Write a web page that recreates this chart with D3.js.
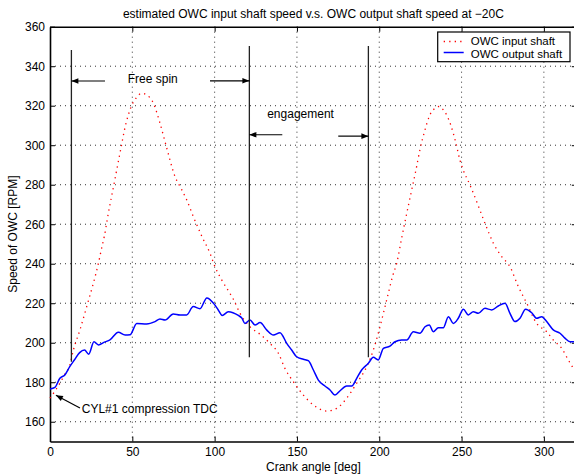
<!DOCTYPE html>
<html>
<head>
<meta charset="utf-8">
<script src="https://cdn.jsdelivr.net/npm/d3@7"></script>
<style>
  body { margin: 0; background: #fff; }
  text { font-family: "Liberation Sans", Arial, sans-serif; fill: #000; }
</style>
</head>
<body>
<div id="chart"></div>
<script>
// crank angle [deg] / speed [RPM]
var inputAngle = [0, 3, 6, 9, 12, 14.2, 18.2, 22.3, 26.3, 29.4, 31.4, 33, 35.4, 38.9, 42.5, 46.2, 49, 52.7, 55.7, 58.7,
    62.8, 66.8, 70.9, 75.9, 80, 83, 87, 92.5, 97.2, 100.2, 104.3, 109.3, 111.4, 115.4, 121.5, 127.6, 133.6, 138.7,
    142.7, 147.8, 153.9, 160, 168.1, 174.2, 180.2, 186.3, 192.4, 196.4, 199.4, 202.5, 205.5, 208.2, 210.6, 213.6,
    216.7, 219.7, 222.3, 224.7, 227.8, 230.8, 233.9, 236.5, 238.9, 240.9, 243.4, 246.6, 249, 251, 255.1, 259.2,
    264.2, 269.3, 274.4, 279.4, 284.5, 289.6, 295.6, 301.7, 305.7, 310.8, 314.8, 317.9, 320];
var inputSpeed = [171.9, 175.5, 179.5, 184, 188.5, 196.3, 206.5, 218.3, 230, 240.2, 248, 253.9, 265.4, 280.4, 296, 311.2, 318.8, 324.3, 326.3, 325.5,
    321.3, 311.2, 298.6, 284.2, 277.5, 272.4, 264, 253.4, 245.3, 238.5, 231.8, 225, 222, 214.9, 208.1, 204.3, 199.7, 194.7,
    187, 180.3, 173.5, 168.5, 165.4, 166.8, 171.9, 179.5, 187.9, 196.3, 204.8, 214.9, 225, 234, 240.2, 252.9,
    265.5, 277.3, 287.5, 297.6, 307.8, 315.4, 318.7, 319.6, 317.9, 315.4, 310.3, 301, 292.5, 287.5, 279.9, 271.4,
    260.5, 250.4, 243.6, 238.5, 228.4, 220, 209.8, 205.6, 201.4, 197.2, 191.3, 187, 184];

var outputAngle = [0, 3, 6, 9, 12, 15, 18, 21, 23.5, 26.7, 29.4, 33, 36.4, 41.5, 45.6, 48.6, 52.7, 58.7, 63.8, 66.8,
    69.9, 74.9, 79, 83, 87, 91.1, 95.3, 99.5, 102.2, 104.6, 108.3, 114.4, 116.5, 118.4, 121.5, 124.5, 127.6, 131.6,
    135.7, 139.7, 143.8, 146.8, 149.8, 153.9, 156.9, 160, 163, 167, 170.1, 173.1, 176.2, 180.2, 183.3, 186.3,
    189.3, 193.4, 196.4, 199.4, 202.5, 206.5, 209.6, 213.6, 216.7, 220.7, 224.7, 227.8, 230.4, 232.8, 235.9,
    238.9, 242, 245, 248, 251.1, 254.1, 257.1, 260.2, 264.2, 268.3, 272.3, 276.4, 279.4, 282.4, 285.5, 288.9,
    292.6, 295.6, 298.7, 301.7, 305.7, 309.8, 312.8, 315.9, 320];
var outputSpeed = [176.6, 177.4, 182, 183.7, 187.9, 191.5, 195, 196.3, 194.2, 200.5, 198.9, 200.3, 201.4, 205.3, 203.9, 204, 209.8, 209.5, 210.7, 212,
    211.5, 214.6, 214.1, 214.1, 218.3, 217.2, 222.7, 219.8, 216.6, 213.8, 215.7, 213.8, 212.5, 209.8, 211.5, 209, 210.2, 206.5,
    203.9, 205.1, 199.7, 196.3, 192.9, 191.6, 190.9, 186.2, 181.1, 178.1, 176.1, 173.5, 175.7, 178.1, 178.1, 182,
    186.2, 189.6, 192.6, 191.3, 197.2, 198.3, 200.5, 201.4, 201.4, 205.6, 204.8, 208.1, 209, 205.6, 207.6,
    207.6, 213.2, 209.8, 212.4, 217, 214.1, 215.7, 214.9, 217.4, 216.6, 218.6, 220, 214.9, 210.7, 212.4, 217,
    215.2, 212.4, 213.2, 210.7, 206.5, 204.8, 202.3, 200.5, 200.5];

var xTicks = [0, 50, 100, 150, 200, 250, 300];
var yTicks = [160, 180, 200, 220, 240, 260, 280, 300, 320, 340, 360];
var seriesNames = ["OWC input shaft", "OWC output shaft"];

function init() {
    var w = 574;
    var h = 476;
    var left = 50, right = 576.8, top = 26.7, bottom = 441.5;

    var svg = d3.select("#chart")
                .append("svg")
                .attr("width", w)
                .attr("height", h);

    var x = d3.scaleLinear().domain([0, 320]).range([left, right]);
    var y = d3.scaleLinear().domain([150, 360]).range([bottom, top]);

    svg.append("defs").append("marker")
        .attr("id", "head")
        .attr("viewBox", "0 0 10 10")
        .attr("refX", 10).attr("refY", 5)
        .attr("markerWidth", 9).attr("markerHeight", 7)
        .attr("markerUnits", "userSpaceOnUse")
        .attr("orient", "auto")
        .append("path")
        .attr("d", "M0,1 L10,5 L0,9 Z")
        .attr("fill", "#000");

    // grid
    var grid = svg.append("g").attr("stroke", "#333").attr("stroke-width", 1).attr("stroke-dasharray", "1,4");
    grid.selectAll("line.gx").data(xTicks.filter(function(d) { return d > 0; }))
        .enter().append("line")
        .attr("x1", function(d) { return x(d); }).attr("x2", function(d) { return x(d); })
        .attr("y1", top).attr("y2", bottom);
    grid.selectAll("line.gy").data(yTicks.filter(function(d) { return d < 360; }))
        .enter().append("line")
        .attr("y1", function(d) { return y(d); }).attr("y2", function(d) { return y(d); })
        .attr("x1", left).attr("x2", right);

    // axes, ticks pointing inward on all four sides
    var fmt = d3.format("d");
    svg.append("g").attr("transform", "translate(0," + bottom + ")")
        .call(d3.axisBottom(x).tickValues(xTicks).tickSizeInner(-5).tickSizeOuter(0).tickPadding(6).tickFormat(fmt));
    svg.append("g").attr("transform", "translate(0," + top + ")")
        .call(d3.axisTop(x).tickValues(xTicks).tickSizeInner(-5).tickSizeOuter(0).tickFormat(""));
    svg.append("g").attr("transform", "translate(" + left + ",0)")
        .call(d3.axisLeft(y).tickValues(yTicks).tickSizeInner(-5).tickSizeOuter(0).tickPadding(5).tickFormat(fmt));
    svg.append("g").attr("transform", "translate(" + right + ",0)")
        .call(d3.axisRight(y).tickValues(yTicks).tickSizeInner(-5).tickSizeOuter(0).tickFormat(""));
    svg.selectAll(".domain").attr("stroke", "#000").attr("stroke-width", 1.6);
    svg.selectAll(".tick line").attr("stroke", "#000").attr("stroke-width", 1);
    svg.selectAll(".tick text").attr("font-size", 12).attr("font-family", "Liberation Sans, Arial, sans-serif").attr("fill", "#000");

    // series
    var lineIn = d3.line()
        .x(function(d, i) { return x(inputAngle[i]); })
        .y(function(d) { return y(d); })
        .curve(d3.curveMonotoneX);
    var lineOut = d3.line()
        .x(function(d, i) { return x(outputAngle[i]); })
        .y(function(d) { return y(d); })
        .curve(d3.curveMonotoneX);

    var plot = svg.append("g");
    plot.append("path")
        .attr("d", lineIn(inputSpeed))
        .attr("fill", "none")
        .attr("stroke", "#ff0000")
        .attr("stroke-width", 1.3)
        .attr("stroke-dasharray", "1.3,4.2");
    plot.append("path")
        .attr("d", lineOut(outputSpeed))
        .attr("fill", "none")
        .attr("stroke", "#0000ff")
        .attr("stroke-width", 1.5);

    // annotations (data units)
    var vlines = [[13, 190.4, 348.2], [121.1, 192.6, 350.2], [193.4, 192.6, 350.2]];
    svg.selectAll("line.vl").data(vlines).enter().append("line")
        .attr("x1", function(d) { return x(d[0]); }).attr("x2", function(d) { return x(d[0]); })
        .attr("y1", function(d) { return y(d[1]); }).attr("y2", function(d) { return y(d[2]); })
        .attr("stroke", "#222").attr("stroke-width", 1.3);

    var arrows = [
        [33.4, 332.5, 13, 332.5],
        [97.2, 332.6, 121.1, 332.6],
        [141.1, 305.3, 121.1, 305.3],
        [175.1, 304.6, 193.4, 304.6],
        [18.2, 167, 3.6, 173.4]
    ];
    svg.selectAll("line.arr").data(arrows).enter().append("line")
        .attr("x1", function(d) { return x(d[0]); }).attr("y1", function(d) { return y(d[1]); })
        .attr("x2", function(d) { return x(d[2]); }).attr("y2", function(d) { return y(d[3]); })
        .attr("stroke", "#000").attr("stroke-width", 1.2)
        .attr("marker-end", "url(#head)");

    var notes = [["Free spin", 62.4, 331.7, "middle"], ["engagement", 152.2, 313.8, "middle"],
                 ["CYL#1 compression TDC", 19.3, 164.4, "start"]];
    svg.selectAll("text.note").data(notes).enter().append("text")
        .attr("x", function(d) { return x(d[1]); })
        .attr("y", function(d) { return y(d[2]); })
        .attr("text-anchor", function(d) { return d[3]; })
        .attr("font-size", 12)
        .text(function(d) { return d[0]; });

    // legend
    var lg = svg.append("g").attr("transform", "translate(437.7,32)");
    lg.append("rect").attr("width", 132.3).attr("height", 29.7)
        .attr("fill", "#fff").attr("stroke", "#000").attr("stroke-width", 1.2);
    lg.append("line").attr("x1", 6).attr("x2", 26).attr("y1", 9.5).attr("y2", 9.5)
        .attr("stroke", "#ff0000").attr("stroke-width", 1.3).attr("stroke-dasharray", "1.3,4.2");
    lg.append("line").attr("x1", 6).attr("x2", 26).attr("y1", 20.5).attr("y2", 20.5)
        .attr("stroke", "#0000ff").attr("stroke-width", 1.5);
    lg.selectAll("text").data(seriesNames).enter().append("text")
        .attr("x", 33).attr("y", function(d, i) { return 13.3 + i * 12.2; })
        .attr("font-size", 11.5)
        .text(function(d) { return d; });

    // titles
    svg.append("text").attr("x", (left + right) / 2).attr("y", 18)
        .attr("text-anchor", "middle").attr("font-size", 12)
        .text("estimated OWC input shaft speed v.s. OWC output shaft speed at \u221220C");
    svg.append("text").attr("x", (left + right) / 2).attr("y", 471)
        .attr("text-anchor", "middle").attr("font-size", 12)
        .text("Crank angle [deg]");
    svg.append("text")
        .attr("transform", "translate(17," + ((top + bottom) / 2) + ") rotate(-90)")
        .attr("text-anchor", "middle").attr("font-size", 12)
        .text("Speed of OWC [RPM]");
}
window.onload = init;
</script>
</body>
</html>
